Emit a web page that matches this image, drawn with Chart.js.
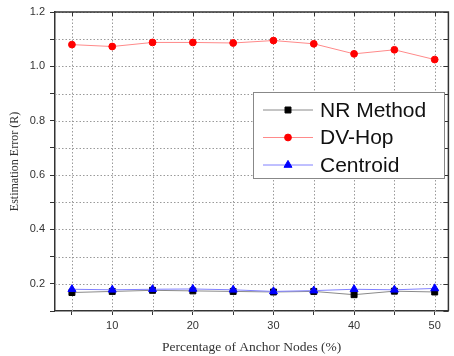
<!DOCTYPE html>
<html>
<head>
<meta charset="utf-8">
<script src="https://cdn.jsdelivr.net/npm/chart.js@4/dist/chart.umd.min.js"></script>
<style>
  html, body { margin: 0; padding: 0; background: #fff; }
</style>
</head>
<body>
<canvas id="plot" width="454" height="356"></canvas>
<script>
// values
let anchorPct = [5, 10, 15, 20, 25, 30, 35, 40, 45, 50];
let nrMethod = [0.168, 0.172, 0.176, 0.174, 0.172, 0.170, 0.172, 0.160, 0.173, 0.170];
let dvHop = [1.080, 1.073, 1.088, 1.088, 1.086, 1.095, 1.083, 1.046, 1.061, 1.025];
let centroid = [0.180, 0.178, 0.180, 0.181, 0.178, 0.172, 0.175, 0.180, 0.178, 0.183];

let xTicks = [5, 10, 15, 20, 25, 30, 35, 40, 45, 50];
let xTickLabels = ['', '10', '', '20', '', '30', '', '40', '', '50'];
let yTicks = [0.1, 0.2, 0.3, 0.4, 0.5, 0.6, 0.7, 0.8, 0.9, 1.0, 1.1, 1.2];
let yTickLabels = ['', '0.2', '', '0.4', '', '0.6', '', '0.8', '', '1.0', '', '1.2'];

function toPoints(ys) {
    return anchorPct.map((x, i) => ({ x: x, y: ys[i] }));
}

const tickFont = { family: '"Liberation Sans", Arial, sans-serif', size: 11 };
const axisColor = '#333';

// dotted grid behind the data
const dotGrid = {
    id: 'dotGrid',
    beforeDatasetsDraw(chart) {
        const { ctx, chartArea: a, scales: { x, y } } = chart;
        ctx.save();
        ctx.strokeStyle = '#9a9a9a';
        ctx.lineWidth = 1;
        ctx.setLineDash([1.5, 2]);
        ctx.beginPath();
        x.ticks.forEach(t => {
            const px = Math.round(x.getPixelForValue(t.value)) + 0.5;
            ctx.moveTo(px, a.top);
            ctx.lineTo(px, a.bottom);
        });
        y.ticks.forEach(t => {
            const py = Math.round(y.getPixelForValue(t.value)) + 0.5;
            ctx.moveTo(a.left, py);
            ctx.lineTo(a.right, py);
        });
        ctx.stroke();
        ctx.restore();
    }
};

// right/top spines with inward ticks, like the original plot frame
const frame = {
    id: 'frame',
    afterDatasetsDraw(chart) {
        const { ctx, chartArea: a, scales: { x, y } } = chart;
        ctx.save();
        ctx.strokeStyle = axisColor;
        ctx.lineWidth = 1.5;
        ctx.beginPath();
        ctx.moveTo(a.left, a.top);
        ctx.lineTo(a.right, a.top);
        ctx.lineTo(a.right, a.bottom);
        ctx.stroke();
        ctx.lineWidth = 1;
        ctx.beginPath();
        x.ticks.forEach(t => {
            const px = Math.round(x.getPixelForValue(t.value)) + 0.5;
            ctx.moveTo(px, a.top);
            ctx.lineTo(px, a.top + 4);
        });
        y.ticks.forEach(t => {
            const py = Math.round(y.getPixelForValue(t.value)) + 0.5;
            ctx.moveTo(a.right, py);
            ctx.lineTo(a.right - 5, py);
        });
        ctx.stroke();
        ctx.restore();
    }
};

// boxed legend sitting inside the plot
const boxLegend = {
    id: 'boxLegend',
    afterDraw(chart) {
        const ctx = chart.ctx;
        const sets = chart.data.datasets;
        ctx.save();
        ctx.fillStyle = '#fff';
        ctx.fillRect(253.5, 92.5, 191, 86);
        ctx.strokeStyle = '#888';
        ctx.lineWidth = 1;
        ctx.strokeRect(253.5, 92.5, 191, 86);
        ctx.font = '21px "Liberation Sans", Arial, sans-serif';
        ctx.textBaseline = 'middle';
        sets.forEach((ds, i) => {
            const cy = 110 + i * 27.5;
            ctx.strokeStyle = ds.borderColor;
            ctx.lineWidth = 1;
            ctx.beginPath();
            ctx.moveTo(263, cy);
            ctx.lineTo(313, cy);
            ctx.stroke();
            ctx.fillStyle = ds.pointBackgroundColor;
            ctx.strokeStyle = ds.pointBackgroundColor;
            Chart.helpers.drawPoint(ctx, {
                pointStyle: ds.pointStyle, radius: ds.pointRadius, rotation: 0, borderWidth: 1
            }, 288, cy);
            ctx.fillStyle = '#111';
            ctx.fillText(ds.label, 320, cy + 1);
        });
        ctx.restore();
    }
};

new Chart(document.getElementById('plot').getContext('2d'), {
    type: 'line',
    data: {
        datasets: [{
            label: 'NR Method',
            data: toPoints(nrMethod),
            borderColor: '#8a8a8a',
            borderWidth: 1,
            pointStyle: 'rect',
            pointRadius: 4.2,
            pointBackgroundColor: '#000',
            pointBorderColor: '#000',
            pointBorderWidth: 1,
            order: 2
        }, {
            label: 'DV-Hop',
            data: toPoints(dvHop),
            borderColor: '#ff8a8a',
            borderWidth: 1,
            pointStyle: 'circle',
            pointRadius: 3.4,
            pointBackgroundColor: '#ff0000',
            pointBorderColor: '#ff0000',
            pointBorderWidth: 1,
            order: 1
        }, {
            label: 'Centroid',
            data: toPoints(centroid),
            borderColor: '#8080ff',
            borderWidth: 1,
            pointStyle: 'triangle',
            pointRadius: 4.6,
            pointBackgroundColor: '#0000ff',
            pointBorderColor: '#0000ff',
            pointBorderWidth: 1,
            order: 0
        }]
    },
    options: {
        responsive: false,
        animation: false,
        layout: { padding: { top: 12, right: 1, left: 0, bottom: 0 } },
        plugins: {
            legend: { display: false },
            tooltip: { enabled: false }
        },
        scales: {
            x: {
                type: 'linear',
                min: 2.9,
                max: 51.7,
                afterBuildTicks: s => { s.ticks = xTicks.map(v => ({ value: v })); },
                afterFit: s => { s.height = 45; },
                ticks: {
                    autoSkip: false,
                    maxRotation: 0,
                    padding: 4,
                    color: axisColor,
                    font: tickFont,
                    callback: (v, i) => xTickLabels[i]
                },
                grid: { drawOnChartArea: false, color: axisColor, tickLength: 4, tickWidth: 1 },
                border: { color: axisColor, width: 1.5 },
                title: {
                    display: true,
                    text: 'Percentage of Anchor Nodes (%)',
                    color: axisColor,
                    font: { family: '"Liberation Serif", "Times New Roman", serif', size: 13.5 },
                    padding: { top: 0, bottom: 0 }
                }
            },
            y: {
                min: 0.1,
                max: 1.2,
                afterBuildTicks: s => { s.ticks = yTicks.map(v => ({ value: v })); },
                afterFit: s => { s.width = 55; },
                ticks: {
                    autoSkip: false,
                    padding: 5,
                    color: axisColor,
                    font: tickFont,
                    callback: (v, i) => yTickLabels[i]
                },
                grid: { drawOnChartArea: false, color: axisColor, tickLength: 5, tickWidth: 1 },
                border: { color: axisColor, width: 1.5 },
                title: {
                    display: true,
                    text: 'Estimation Error (R)',
                    color: axisColor,
                    font: { family: '"Liberation Serif", "Times New Roman", serif', size: 12 },
                    padding: { top: 8, bottom: 0 }
                }
            }
        }
    },
    plugins: [dotGrid, frame, boxLegend]
});
</script>
</body>
</html>
